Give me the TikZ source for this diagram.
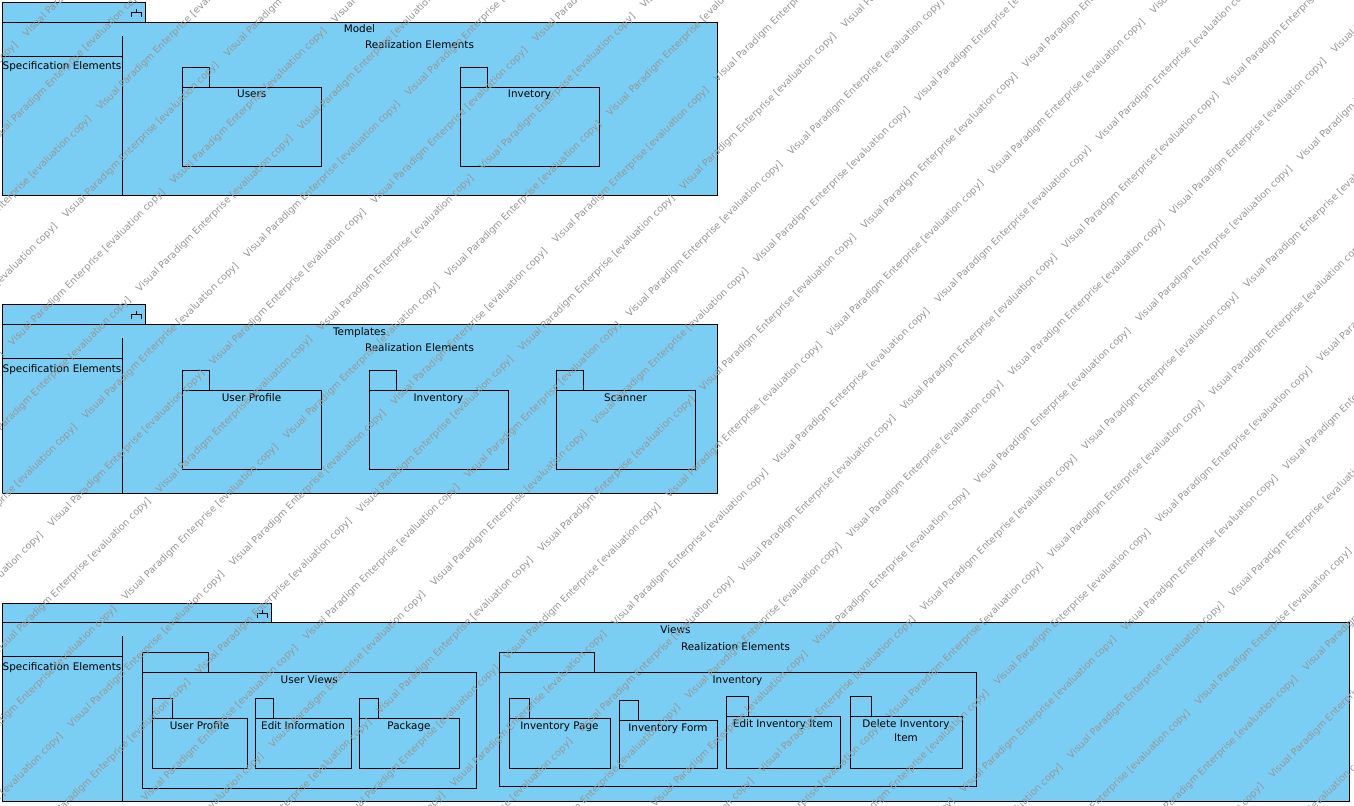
\documentclass[tikz,border=0pt]{standalone}
\usepackage{fontspec}
\setmainfont{DejaVu Sans}
\usepackage{xcolor}
\definecolor{pkgblue}{RGB}{122,206,244}
\definecolor{stampgray}{RGB}{150,150,150}

\begin{document}
\begin{tikzpicture}[x=0.75pt,y=-0.75pt,
  pkg/.style={draw=black,fill=pkgblue,line width=0.6pt},
  divider/.style={draw=black,line width=0.6pt},
  tabicon/.style={draw=black,line width=0.5pt},
  pkgname/.style={font=\fontsize{7.8pt}{10.5pt}\selectfont,inner sep=0pt,anchor=base},
  evalstamp/.style={font=\fontsize{7.2pt}{8pt}\selectfont,text=stampgray,inner sep=0pt,anchor=base west,rotate=45}]
\useasboundingbox (0,0) rectangle (1354,806);
\fill[white] (0,0) rectangle (1354,806);

% Model
\draw[pkg] (2,2) rectangle (145,22);
\draw[pkg] (2,22) rectangle (717,195);
\draw[divider] (122,36) -- (122,195) (2,56.7) -- (122,56.7);
\draw[tabicon] (136,9.3) -- (136,12.3) (131,16.7) -- (131,12.3) -- (141,12.3) -- (141,16.7);
\node[pkgname] (model) at (359.5,33) {Model};
\node[pkgname] (modelreal) at (419.5,49) {Realization Elements};
\node[pkgname] (modelspec) at (62,70) {Specification Elements};
\draw[pkg] (182,67) rectangle (209,87);
\draw[pkg] (182,87) rectangle (321.5,166);
\node[pkgname] (users) at (251.75,98) {Users};
\draw[pkg] (460,67) rectangle (487,87);
\draw[pkg] (460,87) rectangle (599,166);
\node[pkgname] (invetory) at (529.5,98) {Invetory};

% Templates
\draw[pkg] (2,304) rectangle (145,324);
\draw[pkg] (2,324) rectangle (717,493);
\draw[divider] (122,338) -- (122,493) (2,358.5) -- (122,358.5);
\draw[tabicon] (136,311.3) -- (136,314.3) (131,318.7) -- (131,314.3) -- (141,314.3) -- (141,318.7);
\node[pkgname] (templates) at (359.5,335) {Templates};
\node[pkgname] (tplreal) at (419.5,351) {Realization Elements};
\node[pkgname] (tplspec) at (62,372) {Specification Elements};
\foreach \px/\name/\txt in {182/tplprofile/User Profile,369/tplinventory/Inventory,556/tplscanner/Scanner}{
  \draw[pkg] (\px,370) rectangle ({\px+27},390);
  \draw[pkg] (\px,390) rectangle ({\px+139},469);
  \node[pkgname] (\name) at ({\px+69.5},401) {\txt};
}

% Views
\draw[pkg] (2,603) rectangle (271,622);
\draw[pkg] (2,622) rectangle (1349,801);
\draw[divider] (122,636) -- (122,801) (2,656.7) -- (122,656.7);
\draw[tabicon] (262,610.3) -- (262,613.3) (257,617.7) -- (257,613.3) -- (267,613.3) -- (267,617.7);
\node[pkgname] (views) at (675.5,633) {Views};
\node[pkgname] (viewsreal) at (735.5,650) {Realization Elements};
\node[pkgname] (viewsspec) at (62,670) {Specification Elements};

% User Views
\draw[pkg] (142.7,652) rectangle (208,672);
\draw[pkg] (142.7,672) rectangle (476,788);
\node[pkgname] (userviews) at (309.3,683) {User Views};
\foreach \xa/\xt/\xb/\name/\txt in {152/172/247/viewprofile/User Profile,255/273/351/editinfo/Edit Information,359/378/459/package/Package}{
  \draw[pkg] (\xa,698) rectangle (\xt,718);
  \draw[pkg] (\xa,718) rectangle (\xb,768);
  \node[pkgname] (\name) at ({(\xa+\xb)/2},729) {\txt};
}

% Inventory
\draw[pkg] (499,652) rectangle (594,672);
\draw[pkg] (499,672) rectangle (976,786);
\node[pkgname] (viewinventory) at (737.5,683) {Inventory};
\foreach \xa/\xt/\xb/\yt/\name/\txt in {509/529/610/698/invpage/Inventory Page,619/638/717/700/invform/Inventory Form,726/748/840/696/invedit/Edit Inventory Item}{
  \draw[pkg] (\xa,\yt) rectangle (\xt,\yt+20);
  \draw[pkg] (\xa,\yt+20) rectangle (\xb,768);
  \node[pkgname] (\name) at ({(\xa+\xb)/2},\yt+31) {\txt};
}
\draw[pkg] (850,696) rectangle (871,716);
\draw[pkg] (850,716) rectangle (962,768);
\node[pkgname,anchor=north,align=center] (invdelete) at (906,719.5) {Delete Inventory\\Item};

% evaluation stamp
\begin{scope}
\clip (0,0) rectangle (1354,806);
\foreach \k in {-17,...,13}{
  \foreach \n in {-6,...,4}{
    \pgfmathsetmacro\wmS{1241.7+73.6*\k}
    \pgfmathsetmacro\wmT{635-141.7*mod(abs(\k),2)+323*\n}
    \node[evalstamp] (wm\k\n) at ({(\wmS+\wmT)/2},{(\wmS-\wmT)/2}) {Visual Paradigm Enterprise [evaluation copy]};
  }
}
\end{scope}
\end{tikzpicture}
\end{document}
